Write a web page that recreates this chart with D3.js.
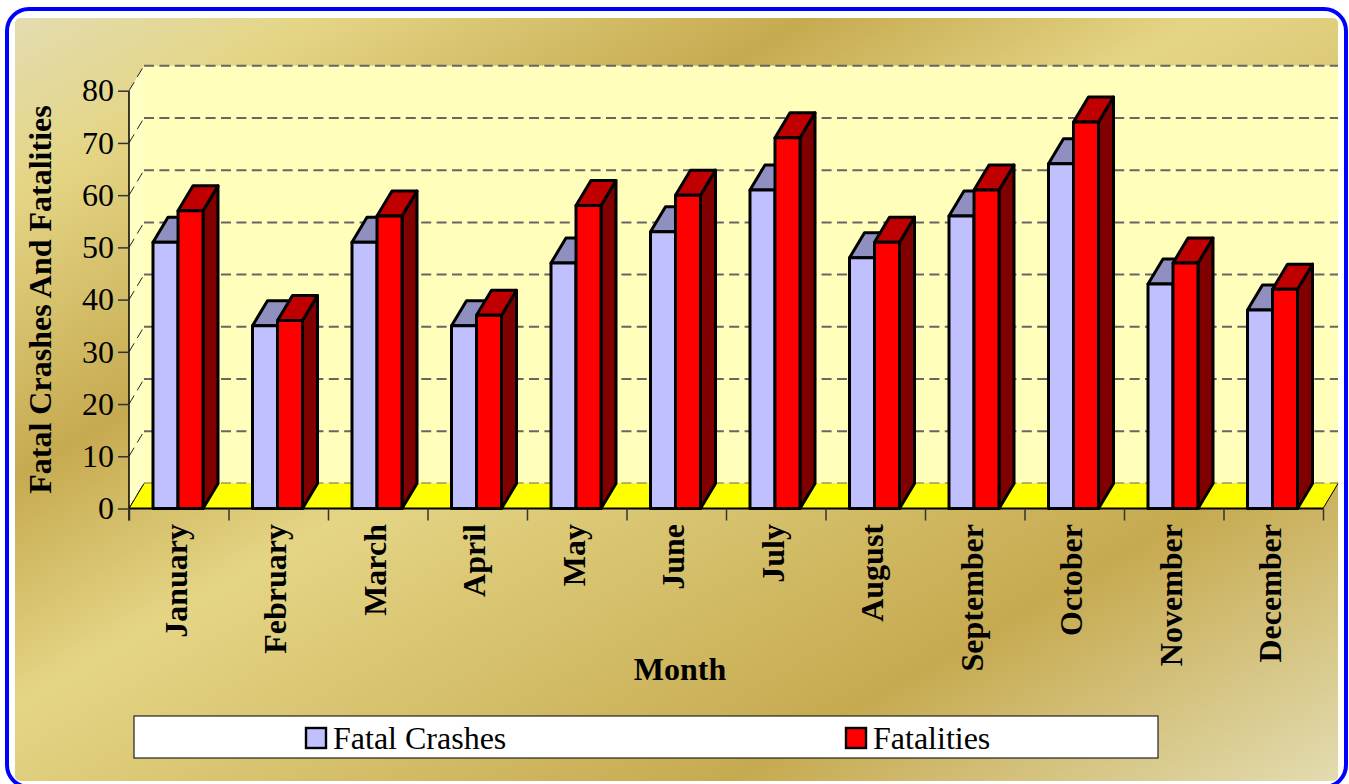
<!DOCTYPE html>
<html>
<head>
<meta charset="utf-8">
<script src="https://cdn.jsdelivr.net/npm/d3@7"></script>
<style>
html, body { margin: 0; padding: 0; background: #fff; overflow: hidden; }
svg { display: block; }
text { font-family: "Liberation Serif", serif; fill: #000; }
</style>
</head>
<body>
<svg id="chart" width="1349" height="784"></svg>
<script>
// chart values
var months = ["January", "February", "March", "April", "May", "June", "July", "August", "September", "October", "November", "December"];
var fatalCrashes = [51, 35, 51, 35, 47, 53, 61, 48, 56, 66, 43, 38];
var fatalities = [57, 36, 56, 37, 58, 60, 71, 51, 61, 74, 47, 42];
var seriesNames = ["Fatal Crashes", "Fatalities"];
var yTicks = [0, 10, 20, 30, 40, 50, 60, 70, 80];

// colors for front, top and side of each series
var frontColors = ["#c0c0ff", "#ff0000"];
var topColors = ["#9090c0", "#c00000"];
var sideColors = ["#6060a0", "#800000"];

// plot box and 3d depth
var left = 129, right = 1323, top0 = 90.7, bottom = 508.5;
var depthX = 15, depthY = 25;

var svg = d3.select("#chart");

var x = d3.scaleBand().domain(months).range([left, right]);
var xEdge = d3.scaleLinear().domain([0, months.length]).range([left, right]);
var xSeries = d3.scaleBand().domain(seriesNames).range([24, 74]);
var y = d3.scaleLinear().domain([0, 80]).range([bottom, top0]);

//Background gradient
var defs = svg.append("defs");
var grad = defs.append("linearGradient").attr("id", "panelGrad")
    .attr("x1", 0).attr("y1", 0).attr("x2", 1).attr("y2", 1);
[[0, "#e3dcb0"], [0.115, "#e4d585"], [0.3, "#c6aa50"], [0.45, "#e4d585"], [0.77, "#c6aa50"], [1, "#e3dcb0"]].forEach(function(s) {
    grad.append("stop").attr("offset", s[0]).attr("stop-color", s[1]);
});

//Blue outer frame and panel
svg.append("rect").attr("x", 7).attr("y", 9).attr("width", 1339).attr("height", 778)
    .attr("rx", 22).attr("fill", "#fff").attr("stroke", "#0000ff").attr("stroke-width", 4);
svg.append("rect").attr("x", 15).attr("y", 18).attr("width", 1323).attr("height", 763)
    .attr("rx", 5).attr("fill", "url(#panelGrad)");

//Back wall and left wall
svg.append("rect")
    .attr("x", left + depthX).attr("y", top0 - depthY)
    .attr("width", right - left).attr("height", bottom - top0)
    .attr("fill", "#ffffbb");
svg.append("polygon")
    .attr("points", [[left, top0], [left + depthX, top0 - depthY], [left + depthX, bottom - depthY], [left, bottom]].join(" "))
    .attr("fill", "#ffffc4");

//Dashed grid on both walls
var grid = svg.append("g").attr("stroke", "#666").attr("stroke-width", 2).attr("fill", "none");
grid.selectAll("line.back").data(yTicks).enter().append("line")
    .attr("class", "back")
    .attr("x1", left + depthX).attr("x2", right + depthX)
    .attr("y1", function(d) { return y(d) - depthY; })
    .attr("y2", function(d) { return y(d) - depthY; })
    .attr("stroke-dasharray", "10,5.4");
grid.selectAll("line.side").data(yTicks).enter().append("line")
    .attr("class", "side")
    .attr("x1", left).attr("x2", left + depthX)
    .attr("y1", function(d) { return y(d); })
    .attr("y2", function(d) { return y(d) - depthY; })
    .attr("stroke", "#222")
    .attr("stroke-width", 1)
    .attr("stroke-dasharray", "10,6");

//Floor
svg.append("polygon")
    .attr("points", [[left, bottom], [left + depthX, bottom - depthY], [right + depthX, bottom - depthY], [right, bottom]].join(" "))
    .attr("fill", "#ffff00");
svg.append("line")
    .attr("x1", right).attr("y1", bottom).attr("x2", right + depthX).attr("y2", bottom - depthY)
    .attr("stroke", "#000");
svg.append("line")
    .attr("x1", left).attr("y1", bottom).attr("x2", left + depthX).attr("y2", bottom - depthY)
    .attr("stroke", "#000");

//Axes
var yAxis = svg.append("g")
    .attr("transform", "translate(" + left + ",0)")
    .call(d3.axisLeft(y).tickValues(yTicks).tickSize(11).tickPadding(4));
yAxis.selectAll("text").style("font-size", "32px").style("font-family", "Liberation Serif");

var xTicks = svg.append("g")
    .attr("transform", "translate(0," + bottom + ")")
    .call(d3.axisBottom(xEdge).tickValues(d3.range(months.length + 1)).tickSize(12).tickFormat(""));

svg.append("g")
    .selectAll("text").data(months).enter().append("text")
    .attr("transform", function(d) { return "translate(" + (x(d) + x.bandwidth() / 2 + 8) + ",524) rotate(-90)"; })
    .attr("text-anchor", "end")
    .style("font-size", "32px")
    .style("font-weight", "bold")
    .text(function(d) { return d; });

[yAxis, xTicks].forEach(function(a) {
    a.selectAll("path.domain").attr("stroke", "#000").attr("stroke-width", 1.5);
    a.selectAll("line").attr("stroke", "#333").attr("stroke-width", 1.5);
});
yAxis.select("path.domain").attr("d", "M0," + top0 + "V" + (bottom + 12));
xTicks.select("path.domain").attr("d", "M" + left + ",0H" + right).attr("stroke-width", 2);

//Draws one series of 3d bars
function drawBars(values, s) {
    var name = seriesNames[s];
    var bars = svg.append("g")
        .attr("stroke", "#000").attr("stroke-width", 3).attr("stroke-linejoin", "round")
        .selectAll("g").data(values).enter().append("g");

    function barLeft(i) { return x(months[i]) + xSeries(name); }
    function barRight(i) { return barLeft(i) + xSeries.bandwidth(); }

    bars.append("polygon")
        .attr("fill", sideColors[s])
        .attr("points", function(d, i) {
            return [[barRight(i), y(d)], [barRight(i) + depthX, y(d) - depthY], [barRight(i) + depthX, y(0) - depthY], [barRight(i), y(0)]].join(" ");
        });
    bars.append("polygon")
        .attr("fill", topColors[s])
        .attr("points", function(d, i) {
            return [[barLeft(i), y(d)], [barLeft(i) + depthX, y(d) - depthY], [barRight(i) + depthX, y(d) - depthY], [barRight(i), y(d)]].join(" ");
        });
    bars.append("rect")
        .attr("fill", frontColors[s])
        .attr("x", function(d, i) { return barLeft(i); })
        .attr("y", function(d) { return y(d); })
        .attr("width", xSeries.bandwidth())
        .attr("height", function(d) { return y(0) - y(d); });
}

drawBars(fatalCrashes, 0);
drawBars(fatalities, 1);

//Axis titles
svg.append("text")
    .attr("transform", "translate(51,299.5) rotate(-90)")
    .attr("text-anchor", "middle")
    .style("font-size", "32px")
    .style("font-weight", "bold")
    .text("Fatal Crashes And Fatalities");
svg.append("text")
    .attr("x", 680).attr("y", 680)
    .attr("text-anchor", "middle")
    .style("font-size", "32px")
    .style("font-weight", "bold")
    .text("Month");

//Legend
svg.append("rect")
    .attr("x", 134).attr("y", 716).attr("width", 1024).attr("height", 42)
    .attr("fill", "#fff").attr("stroke", "#222").attr("stroke-width", 1.2);
var legendX = [306, 846];
var legend = svg.selectAll("g.legend").data(seriesNames).enter().append("g")
    .attr("class", "legend")
    .attr("transform", function(d, i) { return "translate(" + legendX[i] + ",728)"; });
legend.append("rect")
    .attr("width", 20).attr("height", 20)
    .attr("fill", function(d, i) { return frontColors[i]; })
    .attr("stroke", "#000").attr("stroke-width", 2.4);
legend.append("text")
    .attr("x", 27).attr("y", 21)
    .style("font-size", "32px")
    .text(function(d) { return d; });
</script>
</body>
</html>
